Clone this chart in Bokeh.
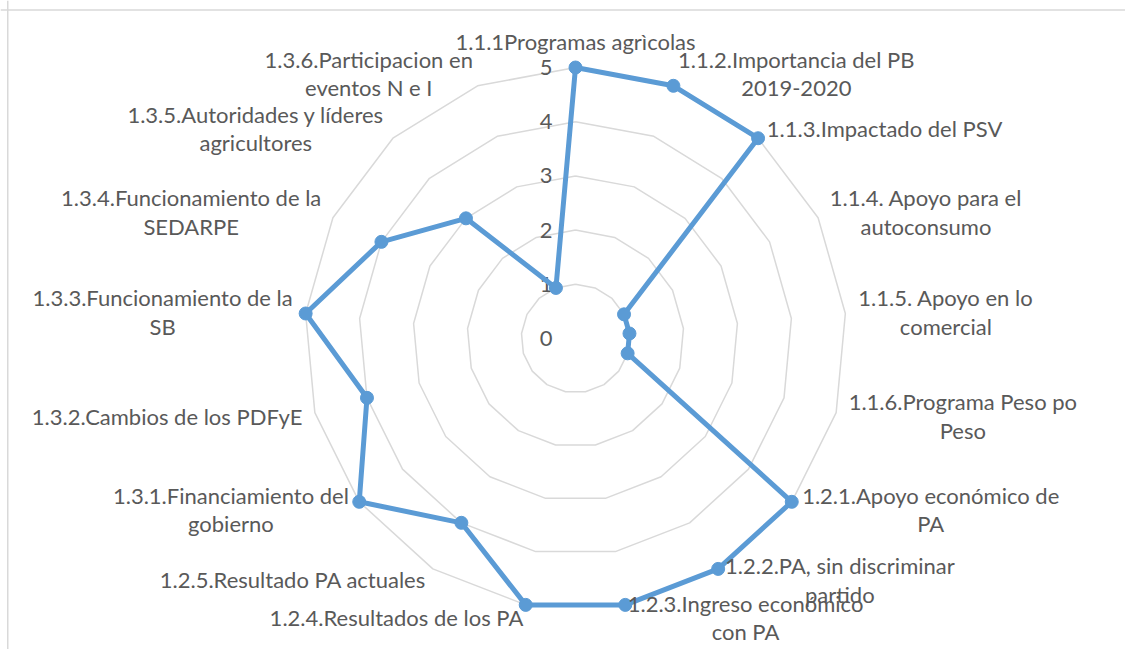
import numpy as np
from bokeh.plotting import figure
from bokeh.models import Range1d, Span, ColumnDataSource
from bokeh.core.properties import value
from bokeh.embed import file_html
from bokeh.resources import INLINE

categories = [
    "1.1.1Programas agrìcolas",
    "1.1.2.Importancia del PB\n2019-2020",
    "1.1.3.Impactado del PSV",
    "1.1.4. Apoyo para el\nautoconsumo",
    "1.1.5. Apoyo en lo\ncomercial",
    "1.1.6.Programa Peso po\nPeso",
    "1.2.1.Apoyo económico de\nPA",
    "1.2.2.PA, sin discriminar\npartido",
    "1.2.3.Ingreso económico\ncon PA",
    "1.2.4.Resultados de los PA",
    "1.2.5.Resultado PA actuales",
    "1.3.1.Financiamiento del\ngobierno",
    "1.3.2.Cambios de los PDFyE",
    "1.3.3.Funcionamiento de la\nSB",
    "1.3.4.Funcionamiento de la\nSEDARPE",
    "1.3.5.Autoridades y líderes\nagricultores",
    "1.3.6.Participacion en\neventos N e I",
]
values = [5, 5, 5, 1, 1, 1, 5, 5, 5, 5, 4, 5, 4, 5, 4, 3, 1]
ticks = [0, 1, 2, 3, 4, 5]

# ---- layout (screen px) ----
W, H = 1125, 649
OX, OY = 0, 0           # page position of the figure
CX, CY = 575.0, 338.0   # page coords of radar centre
U = 54.2                # px per unit
FONT = "Lato"
FS = "22px"
TXT = "#595959"
GRID = "#d9d9d9"
BLUE = "#5b9bd5"
LABEL_R = 284.0 / U

n = len(categories)
theta = 2 * np.pi * np.arange(n) / n
s, c = np.sin(theta), np.cos(theta)

p = figure(width=W, height=H, output_backend="svg", toolbar_location=None,
           x_range=Range1d((OX - CX) / U, (OX + W - CX) / U),
           y_range=Range1d((CY - OY - H) / U, (CY - OY) / U),
           min_border=0, outline_line_color=None,
           background_fill_color="white", border_fill_color="white")
p.axis.visible = False
p.xgrid.visible = False
p.ygrid.visible = False

# chart border (top and left visible)
p.add_layout(Span(location=(7.25 - CX) / U, dimension="height", line_color=GRID, line_width=1.5))
p.add_layout(Span(location=(CY - 9.5) / U, dimension="width", line_color=GRID, line_width=1.5))

# rings
for r in ticks[1:]:
    p.line(list(r * s) + [r * s[0]], list(r * c) + [r * c[0]], line_color=GRID, line_width=1.5)

# tick labels
p.text(x=[-23 / U] * len(ticks), y=ticks, text=[str(t) for t in ticks],
       text_align="right", text_baseline="middle", text_color=TXT,
       text_font=value(FONT), text_font_size=FS)

# data
vx = np.array(values) * s
vy = np.array(values) * c
p.line(list(vx) + [vx[0]], list(vy) + [vy[0]], line_color=BLUE, line_width=5, line_join="round")
p.scatter(vx, vy, size=13, fill_color=BLUE, line_color=BLUE)

# category labels
groups = {"left": [], "right": [], "top": []}
for i in range(n):
    if abs(s[i]) < 0.01:
        groups["top"].append(i)
    elif s[i] > 0:
        groups["left"].append(i)
    else:
        groups["right"].append(i)

for g, idx in groups.items():
    if not idx:
        continue
    src = ColumnDataSource(dict(
        x=[LABEL_R * s[i] for i in idx],
        y=[LABEL_R * c[i] for i in idx],
        t=[categories[i] for i in idx],
    ))
    anchor = {"left": "center_left", "right": "center_right", "top": "bottom_center"}[g]
    p.text(x="x", y="y", text="t", source=src,
           anchor=value(anchor), text_align="center",
           text_baseline={"left": "middle", "right": "middle", "top": "bottom"}[g],
           text_color=TXT, text_font=value(FONT), text_font_size=FS,
           text_line_height=1.06)

open("out.html", "w").write(file_html(p, INLINE))
